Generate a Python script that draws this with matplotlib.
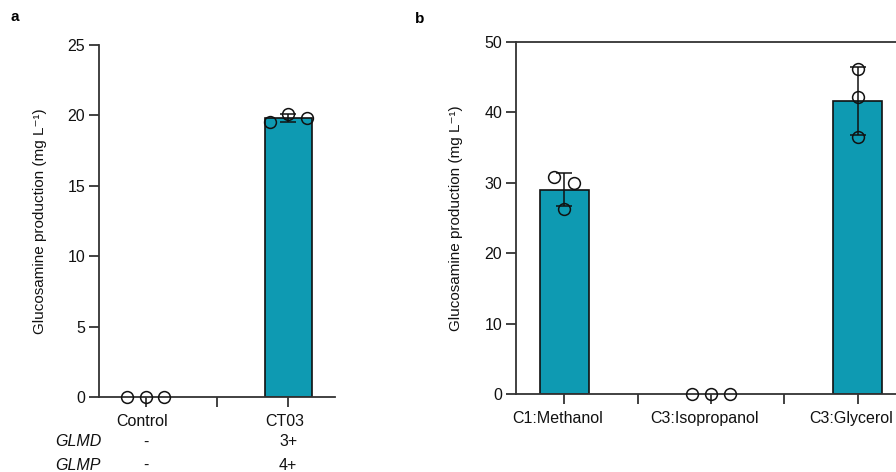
import numpy as np
import matplotlib
matplotlib.use('Agg')
import matplotlib.pyplot as plt
from matplotlib.transforms import blended_transform_factory, ScaledTranslation

plt.rcParams['font.family'] = ['Liberation Sans', 'DejaVu Sans']

# panel a data
a_groups = ['Control', 'CT03']
a_reps = [[0.0, 0.0, 0.0], [19.55, 20.12, 19.8]]
a_glmd = ['-', '3+']
a_glmp = ['-', '4+']

# panel b data
b_groups = ['C1:Methanol', 'C3:Isopropanol', 'C3:Glycerol']
b_reps = [[30.8, 30.0, 26.3], [0.0, 0.0, 0.0], [46.2, 42.2, 36.5]]

a_jitter = [[-0.13, 0.0, 0.13], [-0.13, 0.0, 0.13]]
b_jitter = [[-0.068, 0.068, 0.0], [-0.13, 0.0, 0.13], [0.0, 0.0, 0.0]]

bar_color = '#0E9AB2'
spine_color = '#333333'

fig = plt.figure(figsize=(8.96, 4.72), dpi=100)
ax_a = fig.add_axes([0.1105, 0.1589, 0.2634, 0.7458])
ax_b = fig.add_axes([0.5759, 0.1653, 0.4353, 0.7458])


def draw_panel(ax, groups, reps, jitter, ymax, ystep, label_shift):
    x = np.arange(len(groups))
    means = [np.mean(r) for r in reps]
    sds = [np.std(r, ddof=1) for r in reps]
    for i in range(len(groups)):
        if means[i] > 0:
            ax.bar(x[i], means[i], width=0.33, color=bar_color, edgecolor='#111111',
                   linewidth=1.2, zorder=2)
            ax.errorbar(x[i], means[i], yerr=sds[i], fmt='none', ecolor='#111111',
                        elinewidth=1.1, capsize=5.5, capthick=1.1, zorder=3)
        ax.plot(x[i] + np.array(jitter[i]), reps[i], 'o', ms=8.5, mfc='none',
                mec='#111111', mew=1.1, zorder=4, clip_on=False)
    ax.set_xlim(-0.33, len(groups) - 1 + 0.33)
    ax.set_ylim(0, ymax)
    ax.set_yticks(np.arange(0, ymax + 1, ystep))
    ax.set_xticks(x)
    ax.set_xticklabels(groups)
    ax.set_xticks(x[:-1] + 0.5, minor=True)
    for s in ['left', 'bottom', 'top', 'right']:
        ax.spines[s].set_color(spine_color)
        ax.spines[s].set_linewidth(1.3)
    ax.tick_params(axis='both', which='both', direction='out', color=spine_color,
                   width=1.3, labelsize=11.5, labelcolor='#111111')
    ax.tick_params(axis='x', which='both', length=7, pad=5)
    ax.tick_params(axis='y', length=7, pad=3)
    shift = ScaledTranslation(-label_shift / 100, 0, fig.dpi_scale_trans)
    for lab in ax.get_xticklabels():
        lab.set_transform(lab.get_transform() + shift)
    ax.set_ylabel('Glucosamine production (mg L⁻¹)', fontsize=11, color='#111111',
                  labelpad=15)


draw_panel(ax_a, a_groups, a_reps, a_jitter, 25, 5, 3.5)
ax_a.spines['top'].set_visible(False)
ax_a.spines['right'].set_visible(False)

draw_panel(ax_b, b_groups, b_reps, b_jitter, 50, 10, 7)
ax_b.spines['right'].set_visible(False)

# genotype rows under panel a
tr = blended_transform_factory(ax_a.transData, fig.transFigure)
rows = [('GLMD', a_glmd, 1 - 442 / 472), ('GLMP', a_glmp, 1 - 465 / 472)]
for name, vals, yy in rows:
    fig.text(78 / 896, yy, name, style='italic', fontsize=11.5, ha='center', va='center',
             color='#111111')
    for i, v in enumerate(vals):
        ax_a.text(i, yy, v, transform=tr, fontsize=11.5, ha='center', va='center',
                  color='#111111')

fig.text(15 / 896, 1 - 17 / 472, 'a', fontweight='bold', fontsize=11, ha='center', va='center')
fig.text(420 / 896, 1 - 19 / 472, 'b', fontweight='bold', fontsize=11, ha='center', va='center')

fig.savefig('out.png', dpi=100)
